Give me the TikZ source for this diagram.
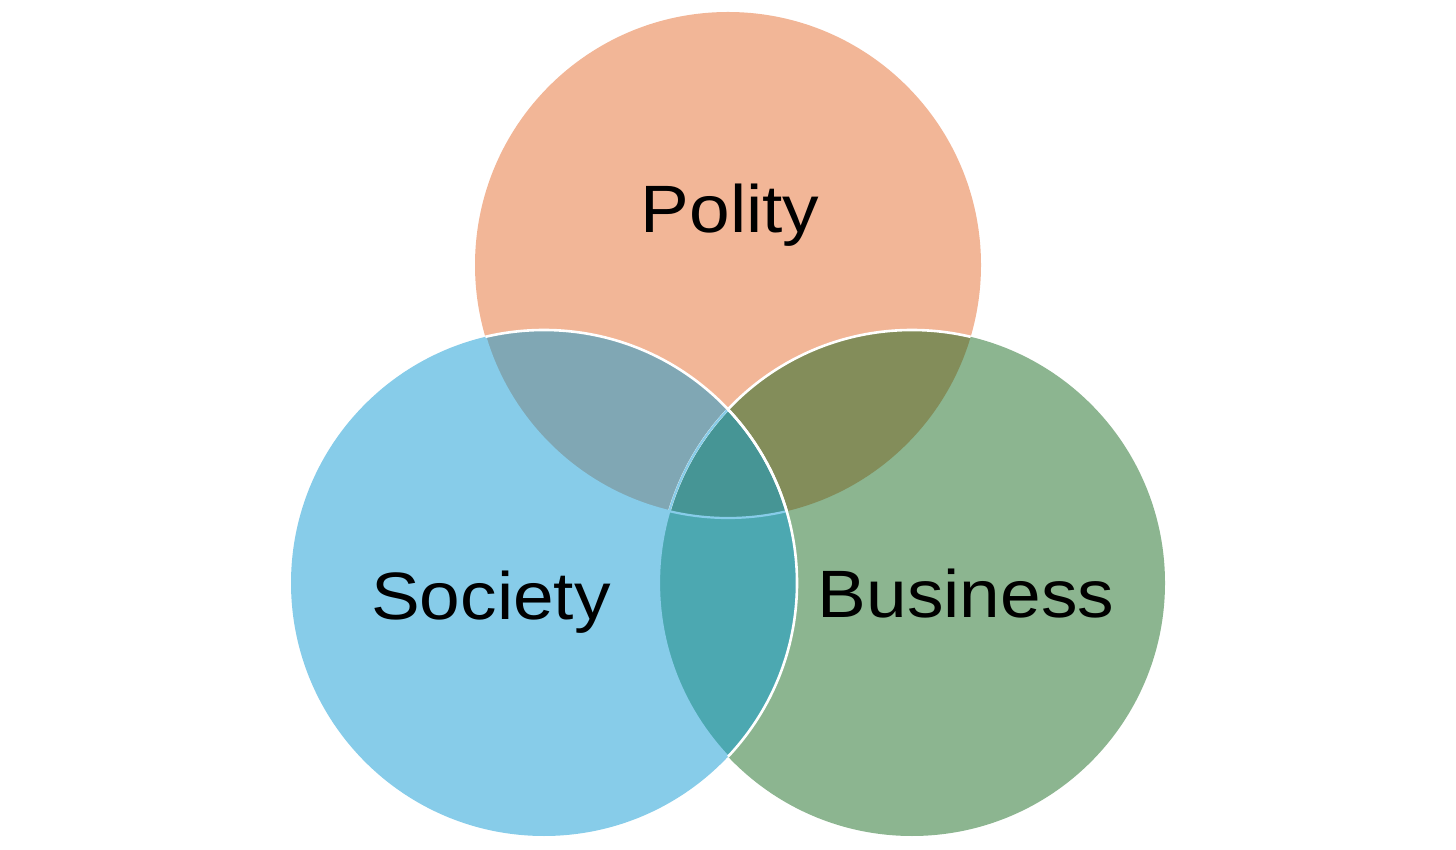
\documentclass[tikz,border=0pt]{standalone}
\usepackage{fontspec}
\setmainfont[FakeStretch=1.09]{Liberation Sans}
\definecolor{topc}{HTML}{F2B697}
\definecolor{leftc}{HTML}{87CCE9}
\definecolor{rightc}{HTML}{8CB590}
\definecolor{tlc}{HTML}{80A7B4}
\definecolor{trc}{HTML}{838D5A}
\definecolor{lrc}{HTML}{4CA8B1}
\definecolor{allc}{HTML}{469595}
\begin{document}
\begin{tikzpicture}[x=1pt,y=1pt,
  lbl/.style={anchor=base,inner sep=0pt,font=\fontsize{67}{80}\selectfont,text=black},
  whiteedge/.style={draw=white,line width=2.6pt},
  faintedge/.style={draw=leftc,line width=2.2pt}]
\useasboundingbox (0,0) rectangle (1456,849);
\def\rr{253}
\coordinate (T) at (728,584);
\coordinate (L) at (544,266);
\coordinate (R) at (912,266);
% base fills
\fill[topc] (T) circle (\rr);
\fill[rightc] (R) circle (\rr);
\fill[leftc] (L) circle (\rr);
% pairwise overlaps
\begin{scope}\clip (T) circle (\rr); \fill[tlc] (L) circle (\rr);\end{scope}
\begin{scope}\clip (T) circle (\rr); \fill[trc] (R) circle (\rr);\end{scope}
\begin{scope}\clip (L) circle (\rr); \fill[lrc] (R) circle (\rr);\end{scope}
\begin{scope}\clip (T) circle (\rr); \clip (L) circle (\rr); \fill[allc] (R) circle (\rr);\end{scope}
% edges
\begin{scope}\clip (T) circle (\rr); \draw[whiteedge] (R) circle (\rr);\end{scope}
\begin{scope}\clip (L) circle (\rr); \draw[faintedge] (R) circle (\rr); \draw[faintedge] (T) circle (\rr);\end{scope}
\begin{scope}\clip (T) circle (\rr); \draw[whiteedge] (L) circle (\rr);\end{scope}
\begin{scope}\clip (R) circle (\rr); \draw[whiteedge] (L) circle (\rr);\end{scope}
% labels
\node[lbl] (polity) at (730,616) {Polity};
\node[lbl] (society) at (491,229) {Society};
\node[lbl] (business) at (966,231) {Business};
\end{tikzpicture}
\end{document}
